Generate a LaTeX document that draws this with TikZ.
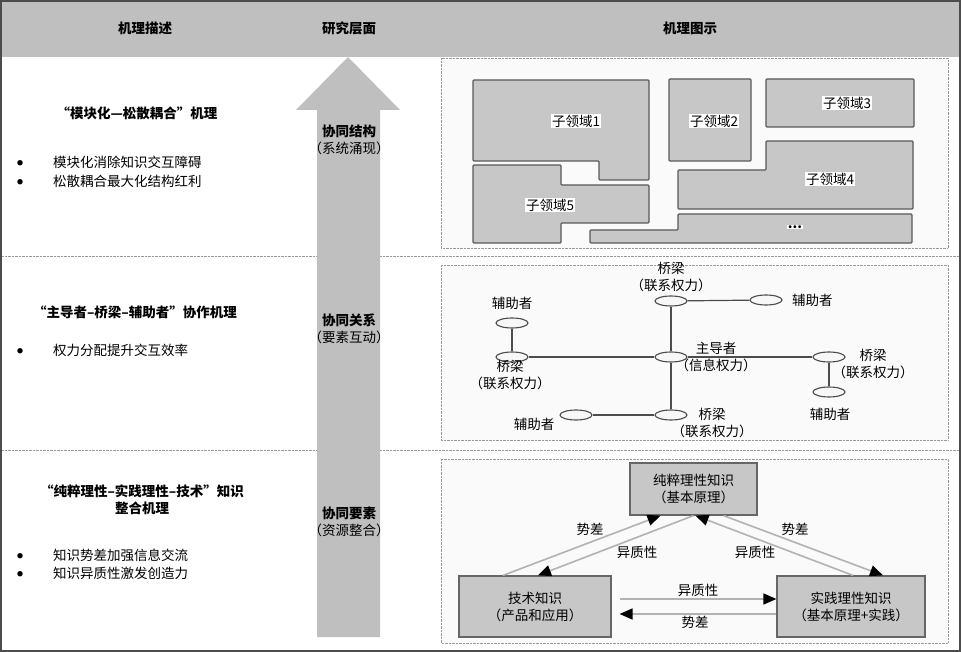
\documentclass[tikz,border=0pt]{standalone}
\usepackage{fontspec}
\setmainfont{Noto Sans CJK SC}
\usetikzlibrary{shapes.geometric}
\usetikzlibrary{arrows.meta}
\usetikzlibrary{positioning}
\newcommand{\dotmark}{\makebox[36pt][l]{\raisebox{1.5pt}{\fontsize{6pt}{6pt}\selectfont ●}}}

\begin{document}
\begin{tikzpicture}[x=1pt,y=-1pt,
        font=\fontsize{13.5pt}{17pt}\selectfont,
        hdr/.style={font=\fontsize{13.5pt}{17pt}\selectfont\bfseries},
        panel/.style={draw=black!40,densely dotted,fill=black!2},
        rowline/.style={draw=black!40,densely dotted},
        subarea/.style={draw=black!65,fill=black!22,line width=1.2pt,rounded corners=1pt},
        dlabel/.style={fill=white,inner sep=1pt},
        role/.style={ellipse,draw=black!70,fill=black!3,line width=1.1pt,minimum width=32pt,minimum height=10pt,inner sep=0pt},
        tie/.style={draw=black!70,line width=1.2pt},
        kbox/.style={draw=black!60,fill=black!22,line width=1.2pt,minimum height=61pt,align=center},
        flow/.style={draw=black!30,line width=1.6pt,-{Triangle[length=13pt,width=11pt,color=black]}},
        txt/.style={anchor=west,inner sep=0pt},
    ]
        \useasboundingbox (0,0) rectangle (962,652);
        % header
        \fill[black!25] (1,1) rectangle (960,57);
        \node[hdr] (hDesc) at (145,28) {机理描述};
        \node[hdr] (hLevel) at (349,28) {研究层面};
        \node[hdr] (hFig) at (690,28) {机理图示};
        \draw[rowline] (2,256) -- (317,256) (380,256) -- (960,256);
        \draw[rowline] (2,450) -- (317,450) (380,450) -- (960,450);

        % left column
        \node[hdr] (t1) at (137,113) {“模块化—松散耦合”机理};
        \node[txt] (b11) at (17,162) {\dotmark 模块化消除知识交互障碍};
        \node[txt] (b12) at (17,181) {\dotmark 松散耦合最大化结构红利};
        \node[hdr] (t2) at (135,312) {“主导者–桥梁–辅助者”协作机理};
        \node[txt] (b21) at (17,350) {\dotmark 权力分配提升交互效率};
        \node[hdr,align=center] (t3) at (142,500) {“纯粹理性–实践理性–技术”知识\\整合机理};
        \node[txt] (b31) at (17,555) {\dotmark 知识势差加强信息交流};
        \node[txt] (b32) at (17,573) {\dotmark 知识异质性激发创造力};

        % big arrow
        \fill[black!25] (317,637) -- (317,110) -- (296,110) -- (348,57) -- (400,110) -- (380,110) -- (380,637) -- cycle;
        \node[align=center] (lv1) at (349,140) {\textbf{协同结构}\\（系统涌现）};
        \node[align=center] (lv2) at (349,329) {\textbf{协同关系}\\（要素互动）};
        \node[align=center] (lv3) at (349,522) {\textbf{协同要素}\\（资源整合）};

        % panel 1: sub-domains
        \draw[panel] (441,58) rectangle (948,248);
        \draw[subarea] (473,80) -- (649,80) -- (649,180) -- (599,180) -- (599,161) -- (473,161) -- cycle;
        \draw[subarea] (669,79) rectangle (751,161);
        \draw[subarea] (766,79) rectangle (914,127);
        \draw[subarea] (766,141) -- (913,141) -- (913,209) -- (678,209) -- (678,170) -- (766,170) -- cycle;
        \draw[subarea] (473,165) -- (561,165) -- (561,185) -- (649,185) -- (649,223) -- (561,223) -- (561,243) -- (473,243) -- cycle;
        \draw[subarea] (590,243) -- (590,230) -- (678,230) -- (678,214) -- (912,214) -- (912,243) -- cycle;
        \node[dlabel] (d1) at (576,121) {子领域1};
        \node[dlabel] (d2) at (714,121) {子领域2};
        \node[dlabel] (d3) at (847,103) {子领域3};
        \node[dlabel] (d4) at (830,179) {子领域4};
        \node[dlabel] (d5) at (550,205) {子领域5};
        \node[dlabel] (d6) at (795,227) {\textbf{...}};

        % panel 2: leader / bridge / helper
        \draw[panel] (441,265) rectangle (948,440);
        \node[role] (bridgeT) at (671,301) {};
        \node[role] (helperT) at (766,300) {};
        \node[role] (helperL) at (512,323) {};
        \node[role] (bridgeL) at (512,357) {};
        \node[role] (leader) at (671,357) {};
        \node[role] (bridgeR) at (829,357) {};
        \node[role] (helperR) at (829,392) {};
        \node[role] (bridgeB) at (671,415) {};
        \node[role] (helperB) at (576,415) {};
        \draw[tie] (bridgeT) -- (helperT);
        \draw[tie] (bridgeT) -- (leader);
        \draw[tie] (leader) -- (bridgeB);
        \draw[tie] (bridgeB) -- (helperB);
        \draw[tie] (bridgeL) -- (leader);
        \draw[tie] (leader) -- (bridgeR);
        \draw[tie] (helperL) -- (bridgeL);
        \draw[tie] (bridgeR) -- (helperR);
        \node[align=center,above=0pt of bridgeT] (lbT) {桥梁\\（联系权力）};
        \node[right=6pt of helperT] (lhT) {辅助者};
        \node[above=4pt of helperL] (lhL) {辅助者};
        \node[align=center] (lbL) at (510,375) {桥梁\\（联系权力）};
        \node[align=center] (lLead) at (716,357) {主导者\\（信息权力）};
        \node[align=center] (lbR) at (873,364) {桥梁\\（联系权力）};
        \node (lhR) at (830,414) {辅助者};
        \node[align=center] (lbB) at (712,423) {桥梁\\（联系权力）};
        \node (lhB) at (534,424) {辅助者};

        % panel 3: knowledge types
        \draw[panel] (441,459) rectangle (948,643);
        \node[kbox,minimum width=127pt,minimum height=52pt] (pure) at (693.5,489) {纯粹理性知识\\（基本原理）};
        \node[kbox,minimum width=152pt] (tech) at (535,606.5) {技术知识\\（产品和应用）};
        \node[kbox,minimum width=148pt] (prac) at (851,606.5) {实践理性知识\\（基本原理+实践）};
        \draw[flow] ([xshift=-32pt]tech.north) -- ([xshift=-33pt]pure.south);
        \draw[flow] ([xshift=0pt]pure.south) -- ([xshift=3pt]tech.north);
        \draw[flow] ([xshift=2pt]prac.north) -- ([xshift=2pt]pure.south);
        \draw[flow] ([xshift=30pt]pure.south) -- ([xshift=32pt]prac.north);
        \draw[flow] ([xshift=8pt,yshift=7.5pt]tech.east) -- ([yshift=7.5pt]prac.west);
        \draw[flow] ([yshift=-7.5pt]prac.west) -- ([xshift=8pt,yshift=-7.5pt]tech.east);
        \node (e1) at (590,529) {势差};
        \node (e2) at (637,552) {异质性};
        \node (e3) at (755,552) {异质性};
        \node (e4) at (795,529) {势差};
        \node (e5) at (698,590) {异质性};
        \node (e6) at (695,622) {势差};

        % frame
        \draw[black!70,line width=1.2pt] (1,1) rectangle (960,651);
    \end{tikzpicture}
\end{document}
